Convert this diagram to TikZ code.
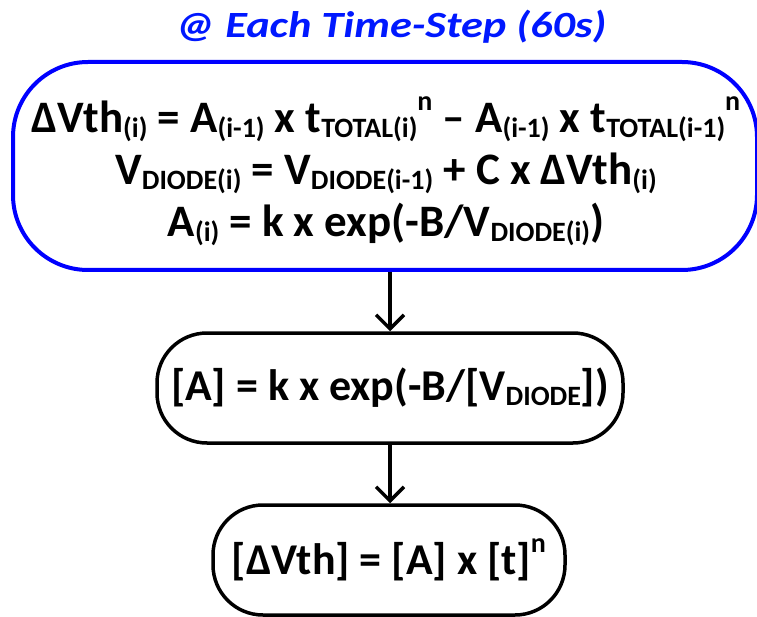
\documentclass[tikz,border=0pt]{standalone}
\usepackage{fontspec}
\setmainfont{Carlito}
\usetikzlibrary{arrows.meta}
\newcommand\sbs[1]{\raisebox{-5pt}{\fontsize{28}{28}\selectfont #1}}
\newcommand\sps[1]{\raisebox{22pt}{\fontsize{28}{28}\selectfont #1}}
\definecolor{titleblue}{RGB}{0,24,255}
\definecolor{boxblue}{RGB}{0,0,255}
\tikzset{
  eqbox/.style={draw=black, line width=3.5pt, rounded corners=50pt, inner sep=0pt,
    minimum height=110pt, font=\fontsize{44}{52}\selectfont\bfseries, align=center},
  topbox/.style={draw=boxblue, line width=4pt, rounded corners=75pt, inner sep=0pt,
    minimum width=744pt, minimum height=208pt},
  eqtext/.style={font=\fontsize{45}{52}\selectfont\bfseries, align=center, inner sep=0pt},
  flow/.style={line width=3.5pt, -{Straight Barb[length=14pt,width=28pt,line width=3.5pt]}}
}
\begin{document}
\begin{tikzpicture}[x=1pt,y=-1pt]
\useasboundingbox (0,0) rectangle (757,617);
\node[font=\fontsize{37}{40}\selectfont\bfseries\itshape, text=titleblue] (title) at (391,27) {\scalebox{1.2}[1]{@ Each Time-Step (60s)}};
\node[topbox] (top) at (385,166) {};
\node[eqtext] (toptext) at (386,171) {%
ΔVth\sbs{(i)} = A\sbs{(i-1)} x t\sbs{TOTAL(i)}\sps{n} – A\sbs{(i-1)} x t\sbs{TOTAL(i-1)}\sps{n}\\
V\sbs{DIODE(i)} = V\sbs{DIODE(i-1)} + C x ΔVth\sbs{(i)}\\
A\sbs{(i)} = k x exp(-B/V\sbs{DIODE(i)})};
\node[eqbox, minimum width=466pt] (mid) at (390,388) {[A] = k x exp(-B/[V\sbs{DIODE}])};
\node[eqbox, minimum width=352pt] (bot) at (389,560) {[ΔVth] = [A] x [t]\sps{n}};
\draw[flow] (top.south -| mid.north) -- (mid.north);
\draw[flow] (mid.south) -- (mid.south |- bot.north);
\end{tikzpicture}
\end{document}
